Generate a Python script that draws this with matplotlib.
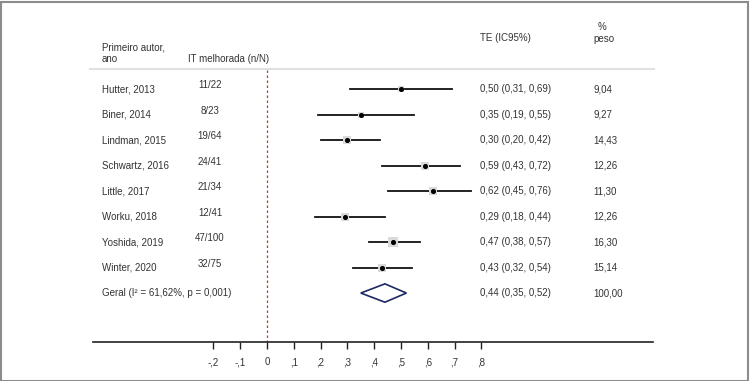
import matplotlib.pyplot as plt
import matplotlib.transforms as mtransforms
from matplotlib.patches import Polygon, Rectangle

plt.rcParams['font.family'] = ['Liberation Sans', 'DejaVu Sans']

studies = ["Hutter, 2013", "Biner, 2014", "Lindman, 2015", "Schwartz, 2016",
           "Little, 2017", "Worku, 2018", "Yoshida, 2019", "Winter, 2020"]
n_of_N = ["11/22", "8/23", "19/64", "24/41", "21/34", "12/41", "47/100", "32/75"]
te = [0.50, 0.35, 0.30, 0.59, 0.62, 0.29, 0.47, 0.43]
lo = [0.31, 0.19, 0.20, 0.43, 0.45, 0.18, 0.38, 0.32]
hi = [0.69, 0.55, 0.42, 0.72, 0.76, 0.44, 0.57, 0.54]
weights = [9.04, 9.27, 14.43, 12.26, 11.30, 12.26, 16.30, 15.14]
overall_label = "Geral (I² = 61,62%, p = 0,001)"
overall = (0.44, 0.35, 0.52)
overall_weight = 100.00
tick_vals = [-0.2, -0.1, 0, 0.1, 0.2, 0.3, 0.4, 0.5, 0.6, 0.7, 0.8]
tick_labels = ["-,2", "-,1", "0", ",1", ",2", ",3", ",4", ",5", ",6", ",7", ",8"]


def fmt(v):
    return f"{v:.2f}".replace(".", ",")


W, H = 750, 381
fig = plt.figure(figsize=(7.5, 3.81), dpi=100)
ax = fig.add_axes((93 / W, 39 / H, 560 / W, 342 / H))
ax.set_xlim(-0.649, 1.440)
ax.set_ylim(9.92, -3.49)

txt = '#333333'
fs = 7
tr = mtransforms.blended_transform_factory(fig.transFigure, ax.transData)

# rows
for i, s in enumerate(studies):
    ax.plot([lo[i], hi[i]], [i, i], color='#111111', lw=1.3, zorder=2)
    ax.scatter(te[i], i, marker='s', s=weights[i] * 2.6, color='#dadada',
               zorder=3, linewidths=0)
    ax.scatter(te[i], i, marker='o', s=7, color='black', zorder=4)
    ax.text(102 / W, i, s, transform=tr, ha='left', va='center', fontsize=fs, color=txt)
    ax.text(210 / W, i - 0.15, n_of_N[i], transform=tr, ha='center', va='center',
            fontsize=fs, color=txt)
    ax.text(480 / W, i, f"{fmt(te[i])} ({fmt(lo[i])}, {fmt(hi[i])})", transform=tr,
            ha='left', va='center', fontsize=fs, color=txt)
    ax.text(593 / W, i, fmt(weights[i]), transform=tr, ha='left', va='center',
            fontsize=fs, color=txt)

# overall
k = len(studies)
est, olo, ohi = overall
ax.add_patch(Polygon([(olo, k), (est, k - 0.36), (ohi, k), (est, k + 0.36)],
                     closed=True, fill=False, edgecolor='#1c2866', lw=1.2, zorder=3))
ax.text(102 / W, k, overall_label, transform=tr, ha='left', va='center', fontsize=fs, color=txt)
ax.text(480 / W, k, f"{fmt(est)} ({fmt(olo)}, {fmt(ohi)})", transform=tr,
        ha='left', va='center', fontsize=fs, color=txt)
ax.text(593 / W, k, fmt(overall_weight), transform=tr, ha='left', va='center',
        fontsize=fs, color=txt)

# headers
ax.text(102 / W, -1.61, "Primeiro autor,", transform=tr, ha='left', va='center', fontsize=fs, color=txt)
ax.text(102 / W, -1.18, "ano", transform=tr, ha='left', va='center', fontsize=fs, color=txt)
ax.text(188 / W, -1.18, "IT melhorada (n/N)", transform=tr, ha='left', va='center', fontsize=fs, color=txt)
ax.text(480 / W, -2.0, "TE (IC95%)", transform=tr, ha='left', va='center', fontsize=fs, color=txt)
ax.text(602 / W, -2.43, "%", transform=tr, ha='center', va='center', fontsize=fs, color=txt)
ax.text(593 / W, -1.96, "peso", transform=tr, ha='left', va='center', fontsize=fs, color=txt)
ax.plot([90 / W, 654 / W], [-0.78, -0.78], transform=tr, color='#e0e0e0', lw=1.5,
        clip_on=False)

# null line
ax.plot([0, 0], [-0.75, 9.92], color='#c0392b', lw=0.9, ls=(0, (2, 2)), zorder=1)

# axis
for side in ['top', 'left', 'right']:
    ax.spines[side].set_visible(False)
ax.spines['bottom'].set_color('#222222')
ax.spines['bottom'].set_linewidth(1.2)
ax.set_yticks([])
ax.set_xticks(tick_vals)
ax.set_xticklabels(tick_labels)
ax.tick_params(axis='x', direction='out', length=5, width=1, colors='#222222',
               labelsize=fs, labelcolor=txt, pad=6)
ax.patch.set_visible(False)

fig.patches.append(Rectangle((0.5 / W, 0.5 / H), 1 - 2.5 / W, 1 - 2 / H,
                             transform=fig.transFigure, fill=False,
                             edgecolor='#8c8c8c', lw=1.5))

fig.savefig("out.png", dpi=100)
